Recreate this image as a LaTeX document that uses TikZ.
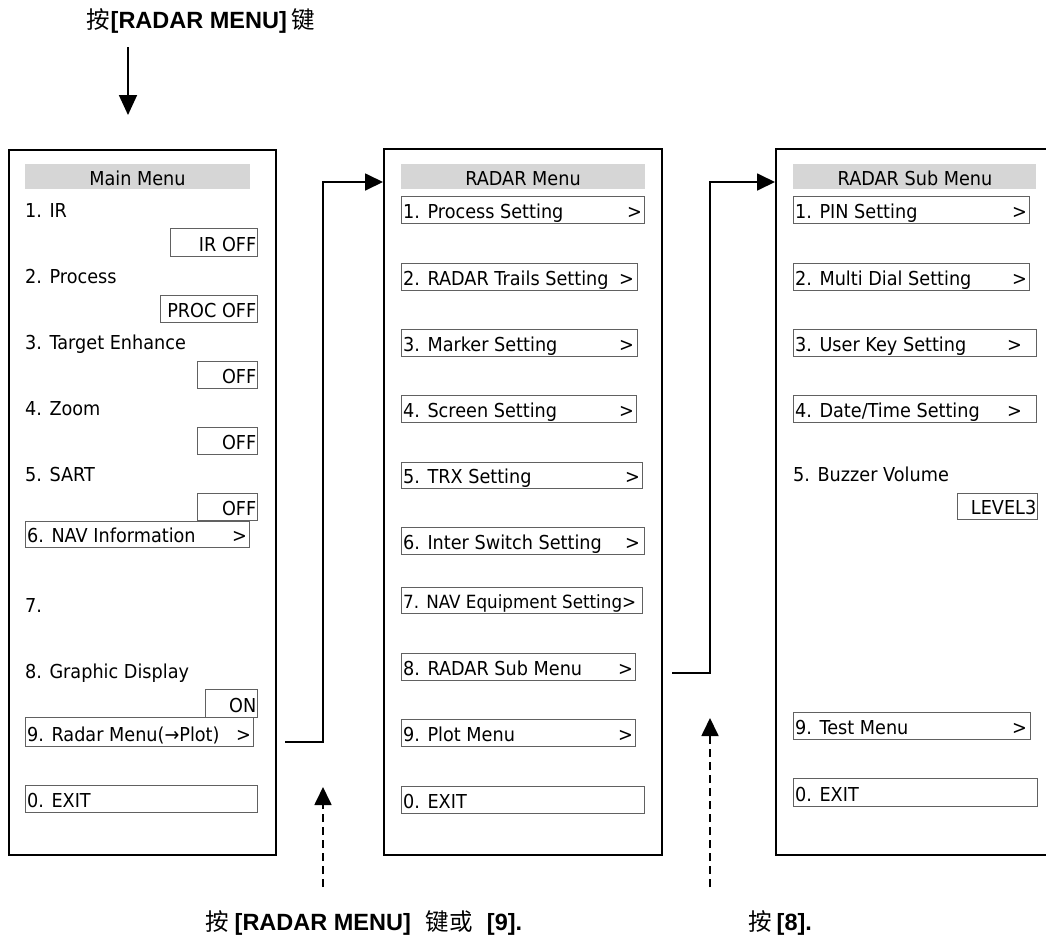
\documentclass[tikz,border=0pt]{standalone}
\usepackage{fontspec}
\setmainfont{DejaVu Sans}[FakeStretch=0.92]
\newfontfamily\cjk{Noto Sans CJK SC}
\newfontfamily\lsans{Liberation Sans}
\usetikzlibrary{arrows.meta}
\tikzset{
  outerbox/.style={draw=black, line width=2pt, inner sep=0pt},
  itembox/.style={draw=black!62, line width=1.2pt, inner sep=0pt},
  hdrbox/.style={fill=black!16, inner sep=0pt},
  mtxt/.style={inner sep=0pt, text=black, font=\fontsize{19.2}{21}\selectfont},
  lbl/.style={inner sep=0pt, font=\fontsize{23.5}{26}\selectfont},
  conn/.style={line width=1.8pt, -{Triangle[length=18pt,width=17pt]}},
  dconn/.style={conn, dash pattern=on 8pt off 5pt},
}
% box node: style, name, x1, y1, x2, y2
\newcommand\bx[6]{\node[#1, anchor=north west, minimum width=#5pt-#3pt, minimum height=#6pt-#4pt] (#2) at (#3,#4) {};}
% menu item with ">": name x1 y1 x2 y2 text x-of-">"
\newcommand\mitem[7]{\bx{itembox}{#1}{#2}{#3}{#4}{#5}
  \node[mtxt, anchor=base west] (#1-t) at (#2+2,#5-5) {#6};
  \node[mtxt, anchor=base east] (#1-g) at (#7,#5-5) {>};}
% menu item without separate ">"
\newcommand\mitemx[6]{\bx{itembox}{#1}{#2}{#3}{#4}{#5}
  \node[mtxt, anchor=base west] (#1-t) at (#2+2,#5-5) {#6};}
% value box, text right aligned
\newcommand\valbox[6]{\bx{itembox}{#1}{#2}{#3}{#4}{#5}
  \node[mtxt, anchor=base east] (#1-t) at (#4-0.5,#5-5) {#6};}
\begin{document}
\begin{tikzpicture}[x=1pt,y=-1pt]
\useasboundingbox (0,0) rectangle (1046,938);

% top label and arrow
\node[lbl, anchor=base west] (toplbl) at (86,28) {{\cjk 按}\hspace{1pt}{\lsans\bfseries [RADAR MENU]}\hspace{5pt}{\cjk 键}};
\coordinate (ta) at (128,47);
\coordinate (tb) at (128,115);
\draw[conn, -{Triangle[length=20pt,width=18pt]}] (ta) -- (tb);

% ---------- Main Menu ----------
\bx{outerbox}{mainbox}{8}{149}{275}{854}
\bx{hdrbox}{mainhdr}{25}{164}{250}{189}
\node[mtxt, anchor=base] (mainhdr-t) at (137.5,185) {Main Menu};
\node[mtxt, anchor=base west] (m1) at (25,217) {1. IR};
\valbox{v1}{170}{228}{257}{256}{IR OFF}
\node[mtxt, anchor=base west] (m2) at (25,283) {2. Process};
\valbox{v2}{160}{295}{257}{322}{PROC OFF}
\node[mtxt, anchor=base west] (m3) at (25,349) {3. Target Enhance};
\valbox{v3}{197}{361}{257}{388}{OFF}
\node[mtxt, anchor=base west] (m4) at (25,415) {4. Zoom};
\valbox{v4}{197}{427}{257}{454}{OFF}
\node[mtxt, anchor=base west] (m5) at (25,481) {5. SART};
\valbox{v5}{197}{493}{257}{520}{OFF}
\mitem{m6}{25}{521}{249}{547}{6. NAV Information}{247}
\node[mtxt, anchor=base west] (m7) at (25,612) {7.};
\node[mtxt, anchor=base west] (m8) at (25,678) {8. Graphic Display};
\valbox{v8}{205}{689}{257}{717}{ON}
\mitem{m9}{25}{717}{253}{746}{9. Radar Menu(→Plot)}{251}
\mitemx{m0}{25}{785}{257}{812}{0. EXIT}

% ---------- RADAR Menu ----------
\bx{outerbox}{radbox}{383}{148}{661}{854}
\bx{hdrbox}{radhdr}{401}{164}{645}{189}
\node[mtxt, anchor=base] (radhdr-t) at (523,185) {RADAR Menu};
\mitem{r1}{401}{196}{644}{223}{1. Process Setting}{642}
\mitem{r2}{401}{263}{637}{290}{2. RADAR Trails Setting}{634}
\mitem{r3}{401}{329}{637}{356}{3. Marker Setting}{634}
\mitem{r4}{401}{395}{636}{422}{4. Screen Setting}{634}
\mitem{r5}{401}{462}{642}{488}{5. TRX Setting}{640}
\mitem{r6}{401}{527}{644}{554}{6. Inter Switch Setting}{640}
\bx{itembox}{r7}{401}{587}{642}{613}
\node[mtxt, font=\fontsize{18.2}{20}\selectfont, anchor=base west] (r7-t) at (403,608) {7. NAV Equipment Setting>};
\mitem{r8}{401}{653}{635}{680}{8. RADAR Sub Menu}{633}
\mitem{r9}{401}{719}{635}{746}{9. Plot Menu}{633}
\mitemx{r0}{401}{786}{644}{813}{0. EXIT}

% ---------- RADAR Sub Menu ----------
\bx{outerbox}{subbox}{775}{148}{1052}{854}
\bx{hdrbox}{subhdr}{793}{164}{1036}{189}
\node[mtxt, anchor=base] (subhdr-t) at (915,185) {RADAR Sub Menu};
\mitem{s1}{793}{196}{1029}{223}{1. PIN Setting}{1027}
\mitem{s2}{793}{263}{1029}{290}{2. Multi Dial Setting}{1027}
\mitem{s3}{793}{329}{1036}{356}{3. User Key Setting}{1022}
\mitem{s4}{793}{395}{1036}{422}{4. Date/Time Setting}{1022}
\node[mtxt, anchor=base west] (s5) at (793,481) {5. Buzzer Volume};
\valbox{sv5}{957}{493}{1037}{519}{LEVEL3}
\mitem{s9}{793}{712}{1030}{739}{9. Test Menu}{1027}
\mitemx{s0}{793}{778}{1037}{806}{0. EXIT}

% ---------- connectors ----------
\coordinate (c1s) at (285,742);
\coordinate (c1m) at (323,182);
\draw[conn] (c1s) -| (c1m) -- (radbox.west |- c1m);
\coordinate (c2s) at (672,673);
\coordinate (c2m) at (710,182);
\draw[conn] (c2s) -| (c2m) -- (subbox.west |- c2m);

\coordinate (d1s) at (323,887);
\coordinate (d1e) at (323,787);
\draw[dconn] (d1s) -- (d1e);
\coordinate (d2s) at (710,887);
\coordinate (d2e) at (710,718);
\draw[dconn] (d2s) -- (d2e);

% bottom labels
\node[lbl, anchor=base west] (botlbl1) at (205,930) {{\cjk 按}\hspace{6pt}{\lsans\bfseries [RADAR MENU]}\hspace{15pt}{\cjk 键或}\hspace{14pt}{\lsans\bfseries [9].}};
\node[lbl, anchor=base west] (botlbl2) at (748,930) {{\cjk 按}\hspace{5pt}{\lsans\bfseries [8].}};
\end{tikzpicture}
\end{document}
